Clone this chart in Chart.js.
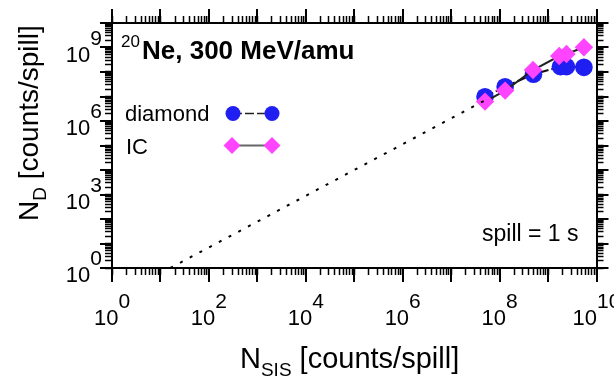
<!DOCTYPE html>
<html><head><meta charset="utf-8">
<script src="https://cdn.jsdelivr.net/npm/chart.js@4/dist/chart.umd.min.js"></script>
<style>html,body{margin:0;padding:0;background:#fff}canvas{display:block}</style>
</head><body>
<canvas id="c" width="614" height="378"></canvas>
<script>
// ---- data ----
const nSisDiamond = [5.0e7, 1.3e8, 5.0e8, 1.8e9, 2.4e9, 5.5e9];
const nDiamond    = [9.8e6, 2.5e7, 8.1e7, 1.66e8, 1.66e8, 1.55e8];
const nSisIC      = [5.0e7, 1.3e8, 4.9e8, 1.7e9, 2.4e9, 5.5e9];
const nIC         = [6.2e6, 1.74e7, 1.2e8, 4.5e8, 5.4e8, 1.02e9];
const refLineX    = [16, 5.0e7];
const refLineY    = [1, 7.0e6];
const xLabelExps  = [0, 2, 4, 6, 8, 10];
const yLabelExps  = [0, 3, 6, 9];
const axisMin = 1, axisMax = 1e10;
const seriesNames = ['diamond', 'IC'];
const titleSup = '20', titleMain = 'Ne, 300 MeV/amu';
const noteText = 'spill = 1 s';

const BLUE = '#1f1ff2', MAG = '#ff44ff';
const FONT = '"Liberation Sans", Arial, Helvetica, sans-serif';

function pts(xs, ys){ return xs.map((x,i)=>({x:x, y:ys[i]})); }
function logTickValues(){
  const v = [];
  for (let e = 0; e < 10; e++) for (let m = 1; m < 10; m++) v.push(m*Math.pow(10,e));
  v.push(1e10);
  return v;
}
function axisCfg(position, axisKey){
  return {
    type: 'logarithmic', position: position, axis: axisKey,
    min: axisMin, max: axisMax,
    grid: {display: true, drawOnChartArea: false, drawTicks: true, tickLength: 7, tickWidth: 1.5, tickColor: '#000'},
    border: {display: true, color: '#000', width: 2},
    ticks: {display: false, autoSkip: false},
    afterBuildTicks: s => { s.ticks = logTickValues().map(v => ({value: v})); }
  };
}

const decor = {
  id: 'decor',
  afterDraw(chart){
    const ctx = chart.ctx, ca = chart.chartArea;
    const sx = chart.scales.x, sy = chart.scales.y;
    ctx.save();
    // major (decade) ticks, longer, outward on all four sides
    ctx.strokeStyle = '#000'; ctx.lineWidth = 2;
    const L = 14;
    for (let e = 0; e <= 10; e++) {
      const v = Math.pow(10, e);
      const px = Math.round(sx.getPixelForValue(v));
      const py = Math.round(sy.getPixelForValue(v));
      ctx.beginPath();
      ctx.moveTo(px, ca.bottom); ctx.lineTo(px, ca.bottom + L);
      ctx.moveTo(px, ca.top); ctx.lineTo(px, ca.top - L);
      ctx.moveTo(ca.left, py); ctx.lineTo(ca.left - L + 2, py);
      ctx.moveTo(ca.right, py); ctx.lineTo(ca.right + L - 2, py);
      ctx.stroke();
    }
    ctx.fillStyle = '#000';
    ctx.textBaseline = 'alphabetic';
    const baseF = '22px ' + FONT, expF = '21px ' + FONT;
    // x tick labels
    xLabelExps.forEach(e => {
      const px = sx.getPixelForValue(Math.pow(10, e));
      ctx.font = baseF; const w1 = ctx.measureText('10').width;
      ctx.font = expF; const w2 = ctx.measureText(String(e)).width;
      const x0 = px - (w1 + w2) / 2;
      ctx.font = baseF; ctx.textAlign = 'left'; ctx.fillText('10', x0, ca.bottom + 57);
      ctx.font = expF; ctx.fillText(String(e), x0 + w1, ca.bottom + 40);
    });
    // y tick labels
    yLabelExps.forEach(e => {
      const py = sy.getPixelForValue(Math.pow(10, e));
      ctx.font = baseF; const w1 = ctx.measureText('10').width;
      ctx.font = expF; const w2 = ctx.measureText(String(e)).width;
      const x0 = 102 - (w1 + w2);
      ctx.font = baseF; ctx.textAlign = 'left'; ctx.fillText('10', x0, py + 14);
      ctx.font = expF; ctx.fillText(String(e), x0 + w1, py - 3);
    });
    // x axis title
    const tF = '29px ' + FONT, sF = '19px ' + FONT;
    let x = 240;
    ctx.font = tF; ctx.fillText('N', x, 368); x += ctx.measureText('N').width;
    ctx.font = sF; ctx.fillText('SIS', x, 376); x += ctx.measureText('SIS').width;
    ctx.font = tF; ctx.fillText(' [counts/spill]', x, 368);
    // y axis title (rotated)
    const tF2 = '28px ' + FONT;
    ctx.save();
    ctx.translate(38, 221); ctx.rotate(-Math.PI / 2);
    let t = 0;
    ctx.font = tF2; ctx.fillText('N', t, 0); t += ctx.measureText('N').width;
    ctx.font = sF; ctx.fillText('D', t, 8); t += ctx.measureText('D').width;
    ctx.font = tF2; ctx.fillText(' [counts/spill]', t, 0);
    ctx.restore();
    // title
    ctx.font = '17px ' + FONT; ctx.fillText(titleSup, 121, 47);
    ctx.font = 'bold 26px ' + FONT; ctx.fillText(titleMain, 142, 59);
    // note
    ctx.font = '23px ' + FONT; ctx.fillText(noteText, 482, 241);
    // legend
    ctx.font = '22px ' + FONT;
    ctx.fillText(seriesNames[0], 125, 121);
    ctx.fillText(seriesNames[1], 126, 154);
    ctx.strokeStyle = '#222'; ctx.lineWidth = 1.5; ctx.setLineDash([9, 3]);
    ctx.beginPath(); ctx.moveTo(233, 113.5); ctx.lineTo(272, 113.5); ctx.stroke();
    ctx.setLineDash([]);
    ctx.strokeStyle = '#666'; ctx.lineWidth = 1.8;
    ctx.beginPath(); ctx.moveTo(232, 145.5); ctx.lineTo(272, 145.5); ctx.stroke();
    ctx.fillStyle = BLUE;
    [233, 272].forEach(cx => { ctx.beginPath(); ctx.arc(cx, 113.5, 7.5, 0, Math.PI * 2); ctx.fill(); });
    ctx.fillStyle = MAG;
    [232, 272].forEach(cx => {
      ctx.beginPath(); ctx.moveTo(cx - 8.5, 145.5); ctx.lineTo(cx, 137); ctx.lineTo(cx + 8.5, 145.5); ctx.lineTo(cx, 154); ctx.closePath(); ctx.fill();
    });
    ctx.restore();
  }
};

new Chart(document.getElementById('c'), {
  type: 'scatter',
  data: {
    datasets: [
      {label: 'ref', data: pts(refLineX, refLineY), showLine: true, borderColor: '#000', borderWidth: 2, borderDash: [3, 8], pointRadius: 0, fill: false},
      {label: seriesNames[1], data: pts(nSisIC, nIC), showLine: true, borderColor: '#222', borderWidth: 2, pointStyle: 'rectRot', pointRadius: 9.2, pointBackgroundColor: MAG, pointBorderWidth: 0, pointBorderColor: MAG},
      {label: seriesNames[0], data: pts(nSisDiamond, nDiamond), showLine: true, borderColor: '#111', borderWidth: 2, borderDash: [9, 3], pointStyle: 'circle', pointRadius: 8.8, pointBackgroundColor: BLUE, pointBorderWidth: 0, pointBorderColor: BLUE}
    ]
  },
  options: {
    responsive: false, animation: false,
    layout: {padding: {left: 105, right: 10.5, top: 16, bottom: 103}},
    plugins: {legend: {display: false}, tooltip: {enabled: false}, title: {display: false}},
    scales: {
      x: axisCfg('bottom', 'x'),
      x2: axisCfg('top', 'x'),
      y: axisCfg('left', 'y'),
      y2: axisCfg('right', 'y')
    }
  },
  plugins: [decor]
});
</script>
</body></html>
